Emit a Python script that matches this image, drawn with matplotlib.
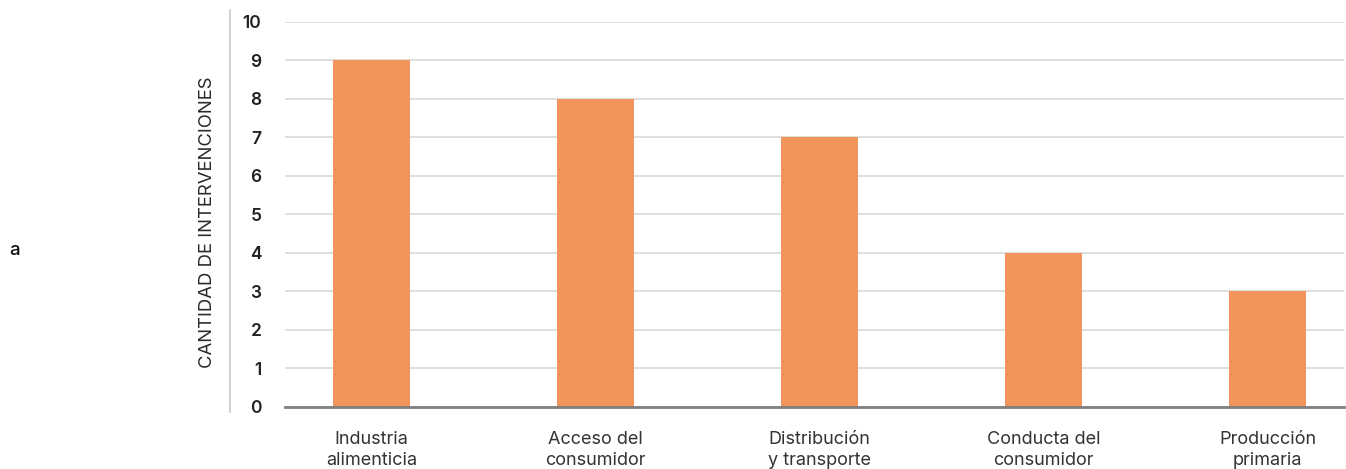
import matplotlib.pyplot as plt
from matplotlib.lines import Line2D

plt.rcParams['font.family'] = ['Inter', 'DejaVu Sans']

# datos del grafico
categorias = ["Industria\nalimenticia", "Acceso del\nconsumidor", "Distribución\ny transporte",
              "Conducta del\nconsumidor", "Producción\nprimaria"]
intervenciones = [9, 8, 7, 4, 3]
marcas_y = list(range(0, 11))

fig = plt.figure(figsize=(13.46, 4.69), dpi=100)
ax = fig.add_axes([0.2117, 0.1322, 0.7868, 0.8209])

x = list(range(len(categorias)))
ax.bar(x, intervenciones, width=0.344, color="#f2955a", zorder=3)

ax.set_xlim(-0.386, 4.34)
ax.set_ylim(0, 10)
ax.set_yticks(marcas_y)
ax.set_yticklabels([str(v) for v in marcas_y], fontsize=12.5, fontweight="semibold", color="#222222")
ax.set_xticks(x)
ax.set_xticklabels(categorias, fontsize=13, color="#333333", linespacing=1.3)
ax.tick_params(axis="both", length=0)
ax.tick_params(axis="y", pad=17)
ax.tick_params(axis="x", pad=17)

ax.grid(axis="y", color="#d6d6d6", linewidth=1.1, zorder=0)
for lado in ["top", "right", "left"]:
    ax.spines[lado].set_visible(False)
ax.spines["bottom"].set_color("#808080")
ax.spines["bottom"].set_linewidth(2)
ax.spines["bottom"].set_zorder(4)

# linea vertical a la izquierda de las etiquetas
fig.add_artist(Line2D([230 / 1346, 230 / 1346], [1 - 412 / 469, 1 - 10 / 469],
                      color="#c8c8c8", linewidth=1.2))

fig.text(207 / 1346, 1 - 222 / 469, "CANTIDAD DE INTERVENCIONES", rotation=90,
         ha="center", va="center", fontsize=13.3, color="#2a2a2a")
fig.text(15 / 1346, 1 - 250 / 469, "a", ha="center", va="center", fontsize=13.5,
         fontweight="medium", color="#111111")

fig.savefig("out.png", dpi=100)
